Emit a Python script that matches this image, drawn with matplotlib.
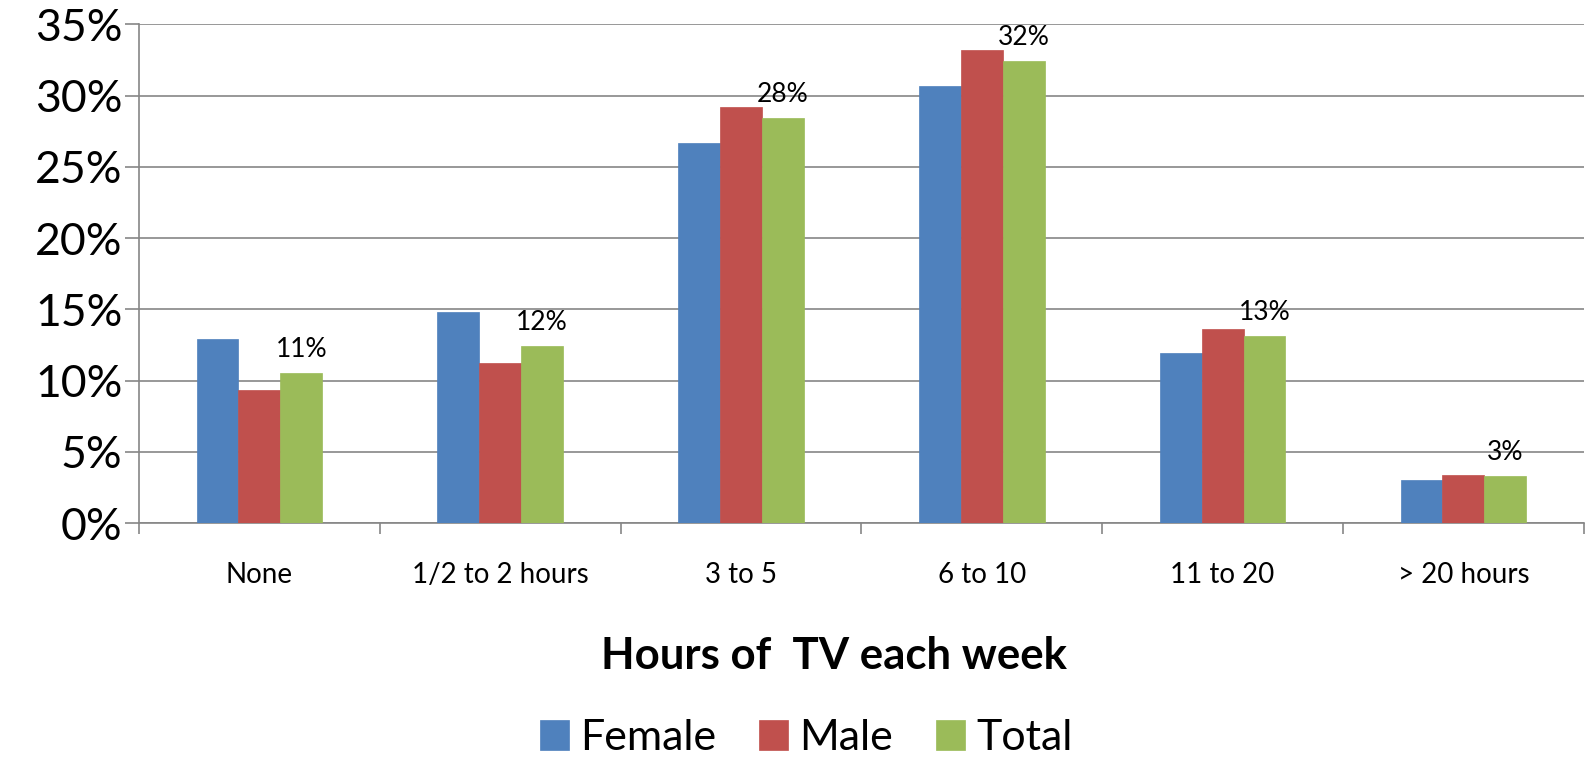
import matplotlib
matplotlib.use("Agg")
import matplotlib.pyplot as plt
import numpy as np
from matplotlib.ticker import MultipleLocator, FuncFormatter

plt.rcParams['font.family'] = ['Lato', 'DejaVu Sans']

categories = ["None", "1/2 to 2 hours", "3 to 5", "6 to 10", "11 to 20", "> 20 hours"]
female = [12.9, 14.8, 26.7, 30.7, 11.9, 3.0]
male = [9.3, 11.2, 29.2, 33.2, 13.6, 3.4]
total = [10.5, 12.4, 28.4, 32.4, 13.1, 3.3]
total_labels = ["11%", "12%", "28%", "32%", "13%", "3%"]
series_names = ["Female", "Male", "Total"]
colors = ["#4F81BD", "#C0504D", "#9BBB59"]
xlabel = "Hours of  TV each week"

fig = plt.figure(figsize=(15.87, 7.58), dpi=100)
ax = fig.add_axes([0.0876, 0.310, 0.9104, 0.658])

x = np.arange(len(categories))
w = 0.174
grey = "#868686"
for i, (vals, name, c) in enumerate(zip([female, male, total], series_names, colors)):
    bars = ax.bar(x + (i - 1) * w, vals, width=w, color=c, label=name, zorder=3,
                  edgecolor=c, linewidth=0.5)
    if name == "Total":
        ax.bar_label(bars, labels=total_labels, padding=8, fontsize=19, color="black")

ax.set_xlim(-0.5, len(categories) - 0.5)
ax.set_ylim(0, 35)
ax.yaxis.set_major_locator(MultipleLocator(5))
ax.yaxis.set_major_formatter(FuncFormatter(lambda v, p: f"{v:.0f}%"))
ax.grid(axis="y", color=grey, linewidth=1.2, zorder=0)
ax.set_axisbelow(True)

ax.set_xticks(x)
ax.set_xticklabels(categories, fontsize=20)
ax.set_xticks(np.arange(len(categories) + 1) - 0.5, minor=True)
ax.tick_params(axis="x", which="major", length=0, pad=28)
ax.tick_params(axis="x", which="minor", length=8, width=1.2, color=grey)
ax.tick_params(axis="y", which="major", length=10, width=1.2, color=grey, labelsize=32, pad=2)

for s in ["top", "right"]:
    ax.spines[s].set_visible(False)
for s in ["left", "bottom"]:
    ax.spines[s].set_color(grey)
    ax.spines[s].set_linewidth(1.2)

fig.text(0.5255, 1 - 656 / 758, xlabel, fontsize=31.5, fontweight="bold", ha="center", va="center")

fig.legend(loc="center", bbox_to_anchor=(0.508, 0.026), ncol=3, frameon=False, fontsize=31,
           handlelength=0.68, handleheight=0.68, handletextpad=0.25, columnspacing=1.0,
           borderpad=0, borderaxespad=0)

fig.savefig("out.png", dpi=100)
